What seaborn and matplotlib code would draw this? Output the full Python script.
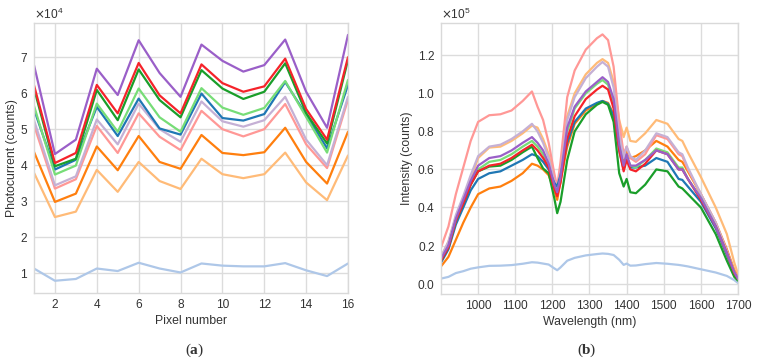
import numpy as np
import pandas as pd
import matplotlib
matplotlib.use('Agg')
import matplotlib.pyplot as plt
import seaborn as sns

# ---------------- data: (a) photocurrent per pixel, in units of 1e4 counts
pixels = list(range(1, 17))
pc_purple = [6.78, 4.31, 4.71, 6.68, 5.95, 7.47, 6.56, 5.90, 7.35, 6.90, 6.60, 6.78, 7.49, 6.04, 5.04, 7.62]
pc_red = [6.22, 4.06, 4.34, 6.23, 5.44, 6.84, 5.94, 5.44, 6.80, 6.28, 6.04, 6.19, 6.96, 5.56, 4.71, 7.00]
pc_green = [6.13, 3.97, 4.18, 6.09, 5.25, 6.66, 5.81, 5.33, 6.64, 6.13, 5.84, 6.04, 6.83, 5.45, 4.60, 6.92]
pc_lgreen = [5.65, 3.74, 3.99, 5.71, 4.93, 6.13, 5.33, 4.93, 6.14, 5.60, 5.40, 5.59, 6.34, 5.34, 4.35, 6.37]
pc_blue = [5.55, 3.88, 4.15, 5.62, 4.81, 5.85, 5.02, 4.85, 5.99, 5.31, 5.24, 5.42, 6.31, 5.40, 4.47, 6.23]
pc_lilac = [5.25, 3.44, 3.69, 5.27, 4.58, 5.71, 5.00, 4.65, 5.77, 5.22, 5.07, 5.25, 5.90, 4.71, 4.00, 5.90]
pc_pink = [5.11, 3.35, 3.61, 5.09, 4.34, 5.44, 4.79, 4.42, 5.51, 5.00, 4.80, 5.00, 5.70, 4.58, 3.92, 5.82]
pc_orange = [4.37, 2.98, 3.21, 4.52, 3.86, 4.81, 4.09, 3.90, 4.84, 4.34, 4.28, 4.36, 5.04, 4.09, 3.49, 4.93]
pc_lorange = [3.79, 2.56, 2.71, 3.87, 3.26, 4.09, 3.56, 3.34, 4.18, 3.75, 3.64, 3.75, 4.35, 3.52, 3.03, 4.27]
pc_lblue = [1.13, 0.79, 0.84, 1.13, 1.06, 1.29, 1.13, 1.02, 1.27, 1.21, 1.19, 1.19, 1.28, 1.08, 0.92, 1.27]

# ---------------- data: (b) spectra, in units of 1e5 counts
wavelength = [900, 920, 940, 960, 980, 1000, 1030, 1060, 1090, 1120, 1145, 1160, 1175, 1190, 1205,
              1213, 1222, 1240, 1260, 1290, 1320, 1335, 1350, 1365, 1380, 1392, 1400, 1410, 1425,
              1450, 1480, 1510, 1540, 1550, 1565, 1600, 1640, 1670, 1690, 1700]
sp_pink = [0.19, 0.30, 0.47, 0.61, 0.75, 0.85, 0.885, 0.89, 0.91, 0.96, 1.01, 0.93, 0.86, 0.74, 0.58,
           0.51, 0.64, 0.98, 1.12, 1.23, 1.29, 1.31, 1.28, 1.14, 0.85, 0.68, 0.72, 0.66, 0.64,
           0.68, 0.78, 0.76, 0.68, 0.67, 0.60, 0.47, 0.32, 0.17, 0.06, 0.03]
sp_lorange = [0.14, 0.22, 0.35, 0.45, 0.55, 0.66, 0.715, 0.72, 0.75, 0.79, 0.83, 0.82, 0.76, 0.68, 0.55,
              0.47, 0.58, 0.88, 1.00, 1.10, 1.16, 1.18, 1.16, 1.06, 0.86, 0.77, 0.82, 0.75, 0.745,
              0.79, 0.86, 0.84, 0.76, 0.75, 0.69, 0.56, 0.40, 0.26, 0.11, 0.05]
sp_lilac = [0.14, 0.22, 0.36, 0.46, 0.57, 0.67, 0.72, 0.73, 0.76, 0.80, 0.84, 0.80, 0.74, 0.66, 0.54,
            0.50, 0.58, 0.86, 0.98, 1.08, 1.14, 1.165, 1.14, 1.03, 0.78, 0.66, 0.72, 0.67, 0.65,
            0.70, 0.79, 0.77, 0.69, 0.68, 0.61, 0.47, 0.32, 0.17, 0.06, 0.03]
sp_purple = [0.13, 0.20, 0.34, 0.44, 0.54, 0.62, 0.66, 0.67, 0.70, 0.74, 0.77, 0.74, 0.70, 0.63, 0.52,
             0.48, 0.56, 0.82, 0.93, 1.01, 1.06, 1.085, 1.06, 0.97, 0.73, 0.62, 0.68, 0.62, 0.62,
             0.65, 0.70, 0.68, 0.60, 0.60, 0.55, 0.45, 0.30, 0.16, 0.06, 0.025]
sp_lgreen = [0.125, 0.195, 0.33, 0.43, 0.53, 0.60, 0.64, 0.65, 0.68, 0.72, 0.75, 0.72, 0.68, 0.62, 0.51,
             0.48, 0.55, 0.80, 0.92, 1.00, 1.05, 1.07, 1.045, 0.95, 0.72, 0.61, 0.67, 0.62, 0.61,
             0.65, 0.71, 0.69, 0.61, 0.61, 0.55, 0.45, 0.30, 0.16, 0.055, 0.025]
sp_red = [0.12, 0.19, 0.33, 0.42, 0.52, 0.59, 0.62, 0.63, 0.66, 0.70, 0.73, 0.70, 0.66, 0.61, 0.50,
          0.46, 0.53, 0.76, 0.88, 0.97, 1.02, 1.04, 1.02, 0.92, 0.70, 0.59, 0.65, 0.60, 0.59,
          0.63, 0.70, 0.68, 0.60, 0.60, 0.55, 0.44, 0.30, 0.16, 0.055, 0.025]
sp_green = [0.12, 0.19, 0.33, 0.42, 0.52, 0.59, 0.615, 0.62, 0.65, 0.69, 0.72, 0.66, 0.605, 0.58, 0.45,
            0.37, 0.43, 0.65, 0.80, 0.89, 0.94, 0.955, 0.94, 0.85, 0.58, 0.51, 0.55, 0.48, 0.475,
            0.52, 0.60, 0.59, 0.51, 0.50, 0.47, 0.40, 0.26, 0.12, 0.035, 0.015]
sp_blue = [0.11, 0.18, 0.31, 0.40, 0.49, 0.55, 0.58, 0.59, 0.62, 0.65, 0.68, 0.67, 0.64, 0.60, 0.53,
           0.51, 0.57, 0.74, 0.85, 0.92, 0.95, 0.96, 0.945, 0.88, 0.70, 0.60, 0.66, 0.61, 0.61,
           0.62, 0.66, 0.64, 0.55, 0.545, 0.51, 0.43, 0.29, 0.15, 0.05, 0.02]
sp_orange = [0.09, 0.14, 0.23, 0.32, 0.40, 0.47, 0.50, 0.51, 0.54, 0.58, 0.63, 0.62, 0.60, 0.57, 0.49,
             0.44, 0.54, 0.72, 0.84, 0.91, 0.945, 0.96, 0.95, 0.89, 0.73, 0.65, 0.70, 0.66, 0.67,
             0.70, 0.75, 0.72, 0.65, 0.64, 0.59, 0.47, 0.32, 0.18, 0.07, 0.03]
sp_lblue = [0.026, 0.035, 0.055, 0.065, 0.078, 0.085, 0.093, 0.094, 0.097, 0.104, 0.112, 0.11, 0.105, 0.10, 0.08,
            0.07, 0.085, 0.12, 0.135, 0.148, 0.155, 0.158, 0.156, 0.15, 0.125, 0.098, 0.105, 0.094, 0.095,
            0.102, 0.108, 0.104, 0.098, 0.095, 0.09, 0.075, 0.058, 0.04, 0.018, 0.003]

series_names = ['lblue', 'lorange', 'orange', 'pink', 'lilac', 'blue', 'lgreen', 'green', 'red', 'purple']
colors = {'lblue': '#aec7e8', 'lorange': '#ffbb78', 'orange': '#ff7f0e', 'pink': '#ff9896',
          'lilac': '#c5b0d5', 'blue': '#1f77b4', 'lgreen': '#77dd77', 'green': '#1a9e2a',
          'red': '#f5232a', 'purple': '#9a5fc8'}

pc = {'lblue': pc_lblue, 'lorange': pc_lorange, 'orange': pc_orange, 'pink': pc_pink,
      'lilac': pc_lilac, 'blue': pc_blue, 'lgreen': pc_lgreen, 'green': pc_green,
      'red': pc_red, 'purple': pc_purple}
sp = {'lblue': sp_lblue, 'lorange': sp_lorange, 'orange': sp_orange, 'pink': sp_pink,
      'lilac': sp_lilac, 'blue': sp_blue, 'lgreen': sp_lgreen, 'green': sp_green,
      'red': sp_red, 'purple': sp_purple}

df_a = pd.concat([pd.DataFrame({'pixel': pixels, 'value': np.array(pc[k]) * 1e4, 'series': k})
                  for k in series_names])
df_b = pd.concat([pd.DataFrame({'wl': wavelength, 'value': np.array(sp[k]) * 1e5, 'series': k})
                  for k in series_names])

sns.set_theme(style='whitegrid')
plt.rcParams['font.family'] = ['Liberation Sans', 'DejaVu Sans']
plt.rcParams['axes.edgecolor'] = '#d9d9d9'
plt.rcParams['grid.color'] = '#dcdcdc'
plt.rcParams['text.color'] = '#333333'
plt.rcParams['axes.labelcolor'] = '#333333'
plt.rcParams['xtick.color'] = '#333333'
plt.rcParams['ytick.color'] = '#333333'

tick_fs = 8.6
label_fs = 8.8

fig = plt.figure(figsize=(7.57, 3.64), dpi=100)
ax1 = fig.add_axes([34 / 757, 1 - 293 / 364, 314 / 757, 270 / 364])
ax2 = fig.add_axes([441 / 757, 1 - 294 / 364, 297 / 757, 271 / 364])

sns.lineplot(data=df_a, x='pixel', y='value', hue='series', palette=colors,
             linewidth=1.6, legend=False, ax=ax1)
ax1.set_xlim(1, 16)
ax1.set_ylim(0.45e4, 7.95e4)
ax1.set_xticks(range(2, 17, 2))
ax1.set_yticks(np.arange(1, 8) * 1e4)
ax1.set_xlabel('Pixel number', fontsize=label_fs, labelpad=3)
ax1.set_ylabel('Photocurrent (counts)', fontsize=label_fs)
ax1.yaxis.set_label_coords(-0.05, 0.5)

sns.lineplot(data=df_b, x='wl', y='value', hue='series', palette=colors,
             linewidth=1.6, legend=False, ax=ax2)
ax2.set_xlim(900, 1700)
ax2.set_ylim(-0.055e5, 1.37e5)
ax2.set_xticks(range(1000, 1701, 100))
ax2.set_yticks(np.arange(0, 1.21, 0.2) * 1e5)
ax2.set_xlabel('Wavelength (nm)', fontsize=label_fs, labelpad=3)
ax2.set_ylabel('Intensity (counts)', fontsize=label_fs)
ax2.yaxis.set_label_coords(-0.093, 0.5)

for ax in (ax1, ax2):
    ax.ticklabel_format(axis='y', style='sci', scilimits=(0, 0), useMathText=True)
    ax.yaxis.get_offset_text().set_fontsize(tick_fs)
    ax.tick_params(labelsize=tick_fs, length=0, pad=4)
    for s in ax.spines.values():
        s.set_linewidth(1.0)

fig.text(190 / 757, 1 - 350 / 364, '(', fontsize=11, family='Liberation Serif', ha='right', va='center')
fig.text(190 / 757, 1 - 350 / 364, 'a', fontsize=11, family='Liberation Serif', weight='bold', ha='left', va='center')
fig.text(197 / 757, 1 - 350 / 364, ')', fontsize=11, family='Liberation Serif', ha='left', va='center')
fig.text(582 / 757, 1 - 350 / 364, '(', fontsize=11, family='Liberation Serif', ha='right', va='center')
fig.text(582 / 757, 1 - 350 / 364, 'b', fontsize=11, family='Liberation Serif', weight='bold', ha='left', va='center')
fig.text(589 / 757, 1 - 350 / 364, ')', fontsize=11, family='Liberation Serif', ha='left', va='center')

plt.savefig('out.png', dpi=100)
